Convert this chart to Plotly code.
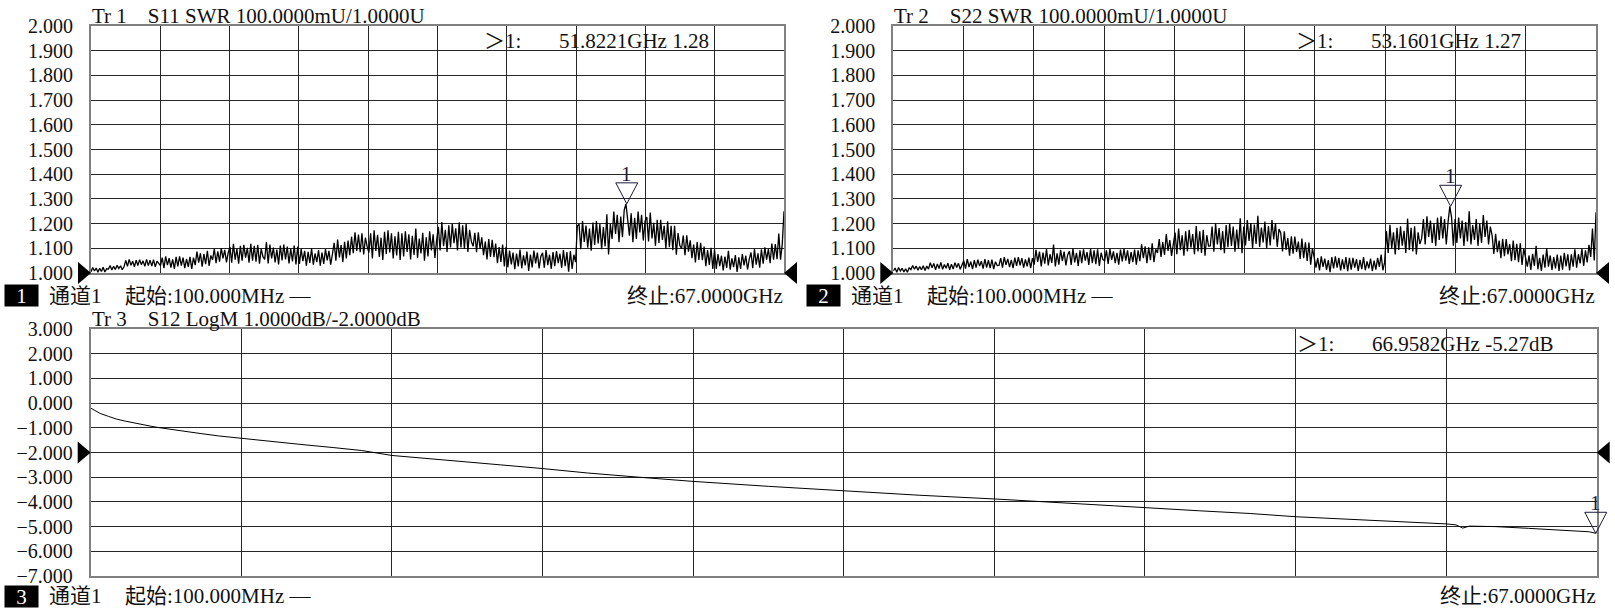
import numpy as np
import plotly.graph_objects as go

# ---------------- data ----------------
F_START_GHZ = 0.1
F_STOP_GHZ = 67.0
N_SWR_POINTS = 400

s11_swr = [
    1.005, 1.022, 1.008, 1.020, 1.003, 1.019, 1.006, 1.023, 1.004, 1.017, 1.016, 1.030, 1.012, 1.027, 1.014, 1.031, 1.018, 1.029, 1.013, 1.025,
    1.051, 1.027, 1.055, 1.031, 1.048, 1.025, 1.052, 1.030, 1.054, 1.034, 1.049, 1.027, 1.055, 1.030, 1.052, 1.028, 1.054, 1.025, 1.048, 1.036,
    1.030, 1.062, 1.020, 1.067, 1.032, 1.060, 1.022, 1.055, 1.017, 1.065, 1.027, 1.067, 1.030, 1.062, 1.020, 1.057, 1.025, 1.065, 1.017, 1.062,
    1.032, 1.087, 1.042, 1.080, 1.026, 1.077, 1.036, 1.090, 1.029, 1.071, 1.053, 1.098, 1.040, 1.088, 1.046, 1.101, 1.059, 1.094, 1.043, 1.082,
    1.106, 1.042, 1.118, 1.054, 1.098, 1.038, 1.110, 1.050, 1.114, 1.062, 1.102, 1.042, 1.118, 1.050, 1.110, 1.046, 1.114, 1.038, 1.098, 1.066,
    1.055, 1.125, 1.039, 1.115, 1.059, 1.103, 1.043, 1.095, 1.035, 1.111, 1.051, 1.115, 1.055, 1.107, 1.039, 1.099, 1.047, 1.111, 1.035, 1.107,
    1.037, 1.097, 1.048, 1.090, 1.030, 1.086, 1.041, 1.100, 1.034, 1.079, 1.044, 1.093, 1.030, 1.083, 1.037, 1.097, 1.051, 1.090, 1.034, 1.076,
    1.122, 1.050, 1.135, 1.063, 1.113, 1.045, 1.126, 1.059, 1.131, 1.072, 1.147, 1.080, 1.165, 1.089, 1.156, 1.084, 1.161, 1.075, 1.143, 1.107,
    1.083, 1.161, 1.059, 1.173, 1.089, 1.155, 1.065, 1.143, 1.053, 1.167, 1.077, 1.173, 1.083, 1.161, 1.059, 1.149, 1.071, 1.167, 1.053, 1.161,
    1.067, 1.169, 1.085, 1.157, 1.055, 1.151, 1.073, 1.180, 1.061, 1.139, 1.079, 1.163, 1.050, 1.145, 1.067, 1.169, 1.091, 1.157, 1.061, 1.133,
    1.187, 1.091, 1.206, 1.109, 1.175, 1.085, 1.193, 1.103, 1.199, 1.121, 1.181, 1.091, 1.205, 1.103, 1.193, 1.097, 1.199, 1.085, 1.175, 1.127,
    1.108, 1.163, 1.084, 1.165, 1.098, 1.144, 1.072, 1.127, 1.055, 1.137, 1.065, 1.134, 1.064, 1.119, 1.040, 1.105, 1.045, 1.115, 1.027, 1.106,
    1.023, 1.091, 1.035, 1.083, 1.015, 1.079, 1.027, 1.095, 1.019, 1.071, 1.031, 1.087, 1.008, 1.075, 1.023, 1.091, 1.039, 1.083, 1.019, 1.067,
    1.082, 1.021, 1.093, 1.032, 1.074, 1.017, 1.085, 1.028, 1.089, 1.040, 1.078, 1.021, 1.093, 1.028, 1.085, 1.005, 1.089, 1.017, 1.074, 1.044,
    1.190, 1.198, 1.096, 1.210, 1.126, 1.192, 1.102, 1.180, 1.090, 1.204, 1.114, 1.210, 1.120, 1.198, 1.096, 1.186, 1.108, 1.238, 1.075, 1.198,
    1.138, 1.249, 1.158, 1.236, 1.125, 1.229, 1.145, 1.255, 1.280, 1.216, 1.151, 1.242, 1.125, 1.223, 1.138, 1.249, 1.164, 1.236, 1.132, 1.210,
    1.227, 1.128, 1.245, 1.140, 1.203, 1.110, 1.215, 1.122, 1.215, 1.134, 1.191, 1.098, 1.209, 1.104, 1.191, 1.092, 1.191, 1.074, 1.162, 1.112,
    1.098, 1.152, 1.072, 1.153, 1.086, 1.132, 1.060, 1.115, 1.043, 1.125, 1.053, 1.122, 1.052, 1.107, 1.028, 1.093, 1.033, 1.102, 1.016, 1.096,
    1.017, 1.077, 1.028, 1.070, 1.010, 1.066, 1.021, 1.090, 1.014, 1.059, 1.024, 1.073, 1.004, 1.063, 1.017, 1.077, 1.031, 1.070, 1.014, 1.056,
    1.083, 1.020, 1.097, 1.034, 1.080, 1.022, 1.096, 1.038, 1.104, 1.054, 1.097, 1.040, 1.119, 1.054, 1.117, 1.056, 1.160, 1.054, 1.117, 1.250,
]

s22_swr = [
    1.008, 1.020, 1.003, 1.022, 1.008, 1.019, 1.004, 1.017, 1.003, 1.021, 1.014, 1.030, 1.015, 1.028, 1.011, 1.026, 1.013, 1.029, 1.010, 1.028,
    1.016, 1.042, 1.021, 1.039, 1.013, 1.037, 1.018, 1.043, 1.015, 1.034, 1.019, 1.040, 1.013, 1.036, 1.016, 1.042, 1.022, 1.039, 1.015, 1.033,
    1.050, 1.018, 1.056, 1.024, 1.046, 1.016, 1.052, 1.022, 1.054, 1.028, 1.048, 1.018, 1.056, 1.022, 1.052, 1.020, 1.054, 1.016, 1.046, 1.030,
    1.031, 1.060, 1.022, 1.064, 1.033, 1.057, 1.024, 1.053, 1.020, 1.062, 1.029, 1.064, 1.031, 1.060, 1.022, 1.055, 1.027, 1.062, 1.020, 1.060,
    1.034, 1.094, 1.045, 1.087, 1.027, 1.083, 1.038, 1.097, 1.031, 1.076, 1.041, 1.115, 1.027, 1.080, 1.034, 1.094, 1.048, 1.087, 1.031, 1.073,
    1.089, 1.033, 1.099, 1.043, 1.082, 1.029, 1.092, 1.040, 1.096, 1.050, 1.085, 1.033, 1.099, 1.040, 1.092, 1.036, 1.096, 1.029, 1.082, 1.054,
    1.050, 1.092, 1.037, 1.098, 1.053, 1.088, 1.040, 1.082, 1.034, 1.095, 1.047, 1.098, 1.050, 1.092, 1.037, 1.085, 1.044, 1.095, 1.034, 1.092,
    1.048, 1.116, 1.060, 1.108, 1.040, 1.104, 1.052, 1.120, 1.044, 1.096, 1.081, 1.137, 1.065, 1.125, 1.073, 1.158, 1.089, 1.133, 1.069, 1.117,
    1.164, 1.076, 1.180, 1.092, 1.153, 1.070, 1.169, 1.087, 1.175, 1.103, 1.158, 1.076, 1.190, 1.087, 1.169, 1.081, 1.175, 1.070, 1.153, 1.109,
    1.110, 1.188, 1.086, 1.200, 1.116, 1.182, 1.092, 1.170, 1.080, 1.194, 1.104, 1.200, 1.110, 1.188, 1.086, 1.176, 1.098, 1.222, 1.080, 1.188,
    1.112, 1.214, 1.130, 1.202, 1.100, 1.196, 1.118, 1.232, 1.106, 1.184, 1.124, 1.208, 1.100, 1.190, 1.112, 1.214, 1.136, 1.202, 1.106, 1.178,
    1.162, 1.087, 1.169, 1.094, 1.141, 1.070, 1.148, 1.078, 1.147, 1.085, 1.127, 1.057, 1.139, 1.060, 1.124, 1.049, 1.123, 1.034, 1.100, 1.062,
    1.022, 1.061, 1.010, 1.067, 1.025, 1.058, 1.013, 1.052, 1.003, 1.064, 1.019, 1.067, 1.022, 1.061, 1.010, 1.055, 1.016, 1.064, 1.007, 1.061,
    1.014, 1.061, 1.022, 1.056, 1.008, 1.053, 1.016, 1.064, 1.011, 1.047, 1.019, 1.058, 1.008, 1.050, 1.014, 1.061, 1.025, 1.075, 1.011, 1.044,
    1.170, 1.081, 1.195, 1.099, 1.165, 1.075, 1.183, 1.093, 1.189, 1.111, 1.171, 1.081, 1.220, 1.093, 1.183, 1.087, 1.189, 1.075, 1.165, 1.117,
    1.140, 1.218, 1.116, 1.230, 1.146, 1.212, 1.122, 1.200, 1.110, 1.224, 1.134, 1.230, 1.140, 1.218, 1.116, 1.206, 1.270, 1.224, 1.110, 1.218,
    1.122, 1.224, 1.140, 1.212, 1.110, 1.206, 1.128, 1.250, 1.116, 1.194, 1.134, 1.218, 1.110, 1.200, 1.122, 1.235, 1.146, 1.212, 1.116, 1.188,
    1.152, 1.077, 1.159, 1.084, 1.131, 1.060, 1.138, 1.068, 1.137, 1.075, 1.117, 1.048, 1.131, 1.052, 1.118, 1.044, 1.120, 1.033, 1.099, 1.062,
    1.026, 1.071, 1.012, 1.078, 1.029, 1.110, 1.015, 1.061, 1.008, 1.075, 1.022, 1.100, 1.026, 1.071, 1.012, 1.064, 1.019, 1.075, 1.008, 1.071,
    1.013, 1.082, 1.027, 1.076, 1.010, 1.076, 1.026, 1.096, 1.022, 1.076, 1.039, 1.098, 1.029, 1.092, 1.043, 1.114, 1.065, 1.180, 1.051, 1.246,
]

s12_freq_ghz = [
    0.10, 0.30, 0.52, 0.90, 1.26, 1.64, 1.99, 2.37, 2.74, 3.11, 3.47, 4.11, 4.96, 5.79, 6.79, 8.13, 9.40,
    10.87, 12.14, 13.48, 14.82, 16.16, 18.30, 20.17, 22.18, 24.45, 26.86, 30.21, 33.55, 36.90, 40.24,
    42.72, 45.59, 49.34, 51.61, 53.62, 56.30, 58.97, 60.31, 60.75, 61.05, 61.35, 62.50, 63.97, 65.66,
    66.67, 66.9582, 67.00,
]
s12_db = [
    -0.20, -0.32, -0.42, -0.54, -0.65, -0.73, -0.80, -0.87, -0.93, -0.99, -1.04, -1.13, -1.23, -1.33, -1.43, -1.56, -1.67,
    -1.80, -1.92, -2.12, -2.22, -2.33, -2.50, -2.65, -2.83, -3.00, -3.17, -3.37, -3.56, -3.73, -3.88,
    -4.00, -4.16, -4.36, -4.47, -4.60, -4.71, -4.83, -4.89, -4.93, -5.06, -4.98, -5.00, -5.07, -5.14,
    -5.21, -5.27, -5.25,
]

marker_freq_ghz = [51.8221, 53.1601, 66.9582]
marker_value = [1.28, 1.27, -5.27]
marker_readout = ["51.8221GHz 1.28", "53.1601GHz 1.27", "66.9582GHz -5.27dB"]

NB = "\u00a0"
trace_titles = [
    f"Tr 1{NB*4}S11 SWR 100.0000mU/1.0000U",
    f"Tr 2{NB*4}S22 SWR 100.0000mU/1.0000U",
    f"Tr 3{NB*4}S12 LogM 1.0000dB/-2.0000dB",
]
trace_numbers = ["1", "2", "3"]
channel_label = "通道1"
start_label = "起始:100.000MHz —"
stop_label = "终止:67.0000GHz"
ref_levels = [1.0, 1.0, -2.0]
y_ranges = [[1.0, 2.0], [1.0, 2.0], [-7.0, 3.0]]
y_dticks = [0.1, 0.1, 1.0]

# ---------------- layout constants ----------------
W, H = 1615, 615
PANELS_PX = [(91, 784, 26, 273), (893.3, 1596, 26, 273), (90.7, 1596.7, 329, 576)]
BOTTOM_ROW_OFFSET = [22.8, 22.8, 20.3]
FONT = "Liberation Serif, Noto Sans CJK SC, serif"
FS = 21
GRID = "#262626"
FRAME = "#808080"
INK = "#111111"

swr_freq = np.linspace(F_START_GHZ, F_STOP_GHZ, N_SWR_POINTS)
series = [(swr_freq, s11_swr, 1.3), (swr_freq, s22_swr, 1.3), (s12_freq_ghz, s12_db, 1.0)]

fig = go.Figure()
layout = dict(
    width=W, height=H, autosize=False,
    margin=dict(l=0, r=0, t=0, b=0, pad=0, autoexpand=False),
    paper_bgcolor="white", plot_bgcolor="white", showlegend=False,
    font=dict(family=FONT, size=FS, color=INK),
)
shapes, annotations = [], []

for k in range(3):
    xa = "x" if k == 0 else f"x{k+1}"
    ya = "y" if k == 0 else f"y{k+1}"
    l, r, t, b = PANELS_PX[k]
    lo, hi = y_ranges[k]
    xs, ys, lw = series[k]
    fig.add_trace(go.Scatter(x=xs, y=ys, xaxis=xa, yaxis=ya, mode="lines",
                             line=dict(color="black", width=lw), hoverinfo="skip"))
    layout["xaxis" if k == 0 else f"xaxis{k+1}"] = dict(
        domain=[l / W, r / W], range=[F_START_GHZ, F_STOP_GHZ], anchor=ya, automargin=False,
        tick0=F_START_GHZ, dtick=(F_STOP_GHZ - F_START_GHZ) / 10,
        showticklabels=False, ticks="", showgrid=True, gridcolor=GRID, gridwidth=1,
        showline=True, mirror=True, linecolor=FRAME, linewidth=2, zeroline=False, fixedrange=True,
    )
    layout["yaxis" if k == 0 else f"yaxis{k+1}"] = dict(
        domain=[1 - b / H, 1 - t / H], range=[lo, hi], anchor=xa, automargin=False,
        tick0=lo, dtick=y_dticks[k], tickformat=".3f",
        ticks="", ticklabelstandoff=12, showgrid=True, gridcolor=GRID, gridwidth=1,
        showline=True, mirror=True, linecolor=FRAME, linewidth=2, zeroline=False, fixedrange=True,
        tickfont=dict(family=FONT, size=20, color=INK),
    )
    ref_frac = (ref_levels[k] - lo) / (hi - lo)
    # reference-level pointers (filled black triangles on both sides)
    shapes.append(dict(type="path", xref=f"{xa} domain", yref=f"{ya} domain", xsizemode="pixel", ysizemode="pixel",
                       xanchor=0, yanchor=ref_frac, path="M0,0 L-13,11 L-13,-11 Z",
                       fillcolor="black", line=dict(width=0), layer="above"))
    shapes.append(dict(type="path", xref=f"{xa} domain", yref=f"{ya} domain", xsizemode="pixel", ysizemode="pixel",
                       xanchor=1, yanchor=ref_frac, path="M0,0 L13,11 L13,-11 Z",
                       fillcolor="black", line=dict(width=0), layer="above"))
    # marker triangle (open, tip at the marker value)
    mx = (marker_freq_ghz[k] - F_START_GHZ) / (F_STOP_GHZ - F_START_GHZ)
    my = (marker_value[k] - lo) / (hi - lo)
    shapes.append(dict(type="path", xref=f"{xa} domain", yref=f"{ya} domain", xsizemode="pixel", ysizemode="pixel",
                       xanchor=mx, yanchor=my, path="M0,0 L-11,21 L11,21 Z",
                       fillcolor="rgba(255,255,255,0)", line=dict(color="#1c1c3a", width=1), layer="above"))
    annotations.append(dict(xref=f"{xa} domain", yref=f"{ya} domain", x=mx, y=my, text="1",
                            showarrow=False, xanchor="center", yanchor="bottom", yshift=17, borderpad=0,
                            font=dict(family=FONT, size=FS, color="#1c1c3a")))
    # title above the grid
    annotations.append(dict(xref=f"{xa} domain", yref=f"{ya} domain", x=0, y=1, text=trace_titles[k],
                            showarrow=False, xanchor="left", yanchor="bottom", yshift=-3, borderpad=0))
    # marker readout
    annotations.append(dict(xref=f"{xa} domain", yref=f"{ya} domain", x=1, y=1, text="＞1:",
                            showarrow=False, xanchor="left", yanchor="top", xshift=-301, yshift=-2, borderpad=0))
    annotations.append(dict(xref=f"{xa} domain", yref=f"{ya} domain", x=1, y=1, text=marker_readout[k],
                            showarrow=False, xanchor="left", yanchor="top", xshift=-226, yshift=-2, borderpad=0))
    # bottom row
    off = BOTTOM_ROW_OFFSET[k]
    annotations.append(dict(xref=f"{xa} domain", yref=f"{ya} domain", x=0, y=0, text=trace_numbers[k],
                            showarrow=False, xanchor="left", yanchor="middle", xshift=-87, yshift=-off,
                            bgcolor="black", width=33, height=21, borderpad=0,
                            font=dict(family=FONT, size=FS, color="white")))
    annotations.append(dict(xref=f"{xa} domain", yref=f"{ya} domain", x=0, y=0, text=channel_label,
                            showarrow=False, xanchor="left", yanchor="middle", xshift=-43, yshift=-off, borderpad=0))
    annotations.append(dict(xref=f"{xa} domain", yref=f"{ya} domain", x=0, y=0, text=start_label,
                            showarrow=False, xanchor="left", yanchor="middle", xshift=33, yshift=-off, borderpad=0))
    annotations.append(dict(xref=f"{xa} domain", yref=f"{ya} domain", x=1, y=0, text=stop_label,
                            showarrow=False, xanchor="right", yanchor="middle", xshift=0, yshift=-off, borderpad=0))

layout["shapes"] = shapes
layout["annotations"] = annotations
fig.update_layout(**layout)
fig.write_html("out.html", config={"displayModeBar": False},
               post_script="document.body.style.margin='0px';")
